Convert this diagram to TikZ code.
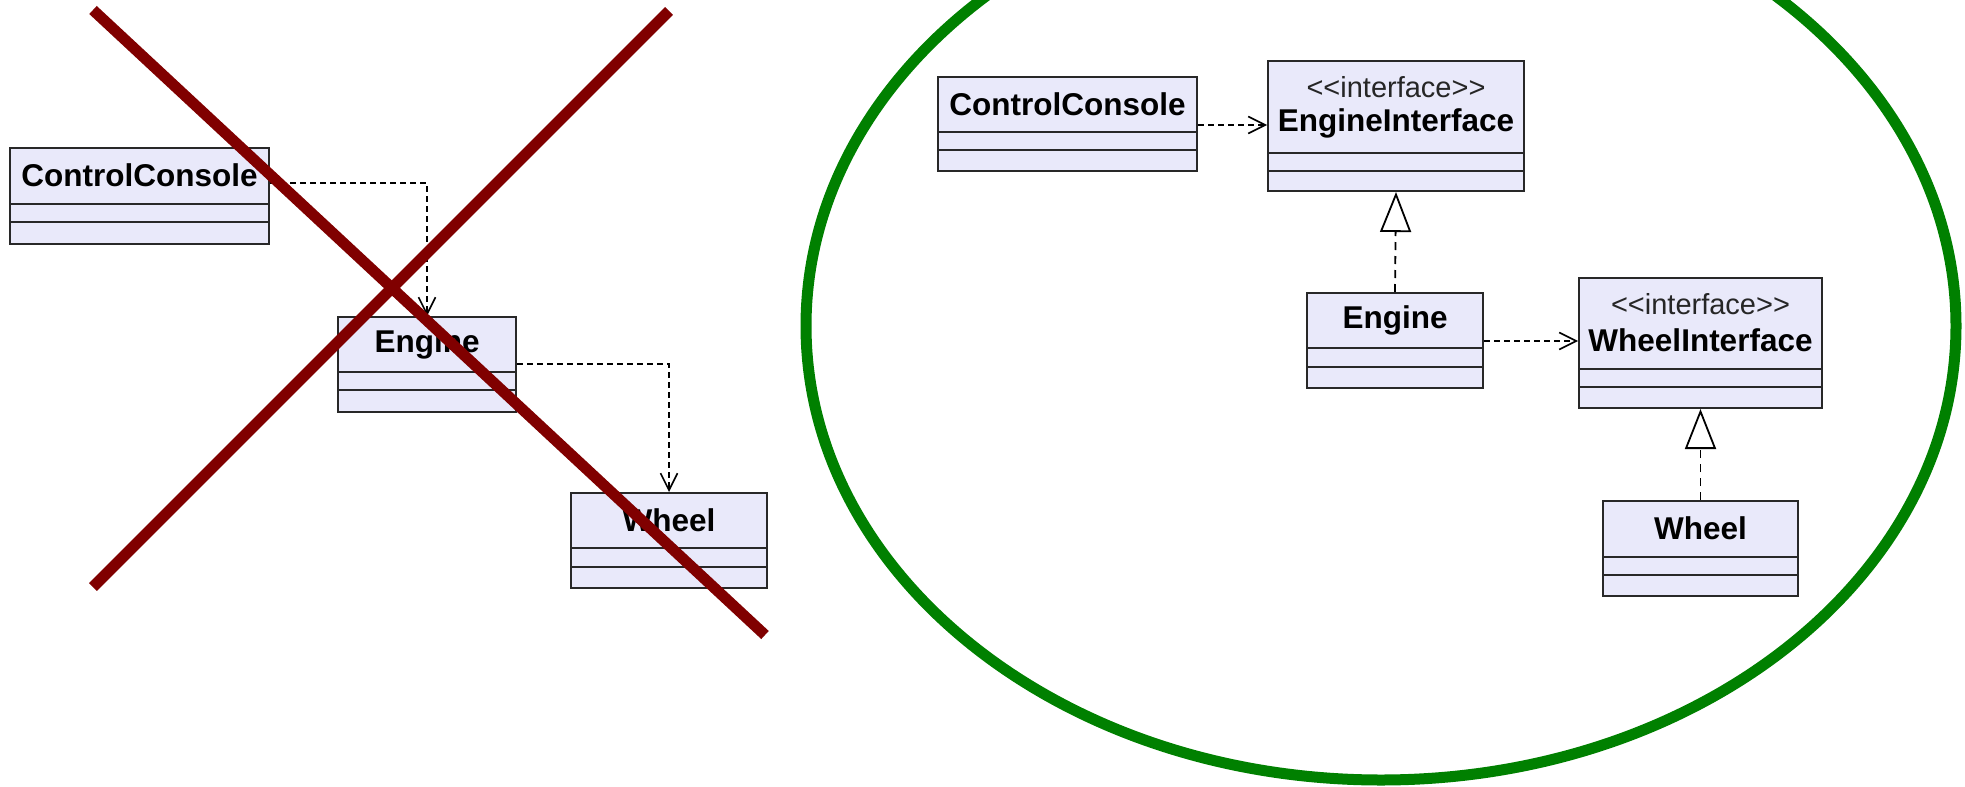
\documentclass[tikz,border=0pt]{standalone}
\usepackage{fontspec}
\setmainfont{Liberation Sans}
\usetikzlibrary{arrows.meta}
\definecolor{classfill}{RGB}{233,233,250}
\definecolor{boxline}{RGB}{40,40,40}
\definecolor{crossred}{RGB}{128,0,0}
\definecolor{ovalgreen}{RGB}{0,128,0}
\newcommand{\stereotxt}[1]{<\kern0pt<#1>\kern0pt>}
\tikzset{
  classbox/.style={draw=boxline, fill=classfill, line width=2pt, inner sep=0pt, anchor=north west},
  divider/.style={draw=boxline, line width=2pt},
  cname/.style={font=\fontsize{31.5}{36}\selectfont\bfseries, text=black, inner sep=0pt},
  stereo/.style={font=\fontsize{29}{33}\selectfont, text=black!85, inner sep=0pt},
  dep/.style={line width=1.6pt, dash pattern=on 6pt off 4pt, -{Straight Barb[length=17pt,width=17pt,line width=1.6pt]}},
  real/.style={line width=1.8pt, dash pattern=on 8pt off 6pt, -{Triangle[open, length=40pt, width=31pt, line width=1.8pt, fill=white]}},
  crossline/.style={draw=crossred, line width=11pt},
  oval/.style={draw=ovalgreen, line width=11pt}
}
\begin{document}
\begin{tikzpicture}[x=1pt,y=-1pt]
\useasboundingbox (0,0) rectangle (1965,787);
\clip (0,0) rectangle (1965,787);

% ---------------- left (crossed out) diagram ----------------
\node[classbox, minimum width=259pt, minimum height=96pt] (lcc) at (9,147) {};
\draw[divider] ([yshift=-57pt]lcc.north west) -- ([yshift=-57pt]lcc.north east);
\draw[divider] ([yshift=-75pt]lcc.north west) -- ([yshift=-75pt]lcc.north east);
\node[cname] (lcct) at ([yshift=-28pt]lcc.north) {ControlConsole};

\node[classbox, minimum width=178pt, minimum height=95pt] (leng) at (337,316) {};
\draw[divider] ([yshift=-56pt]leng.north west) -- ([yshift=-56pt]leng.north east);
\draw[divider] ([yshift=-74pt]leng.north west) -- ([yshift=-74pt]leng.north east);
\node[cname] (lengt) at ([yshift=-28pt]leng.north) {Engine};

\node[classbox, minimum width=196pt, minimum height=95pt] (lwh) at (570,492) {};
\draw[divider] ([yshift=-56pt]lwh.north west) -- ([yshift=-56pt]lwh.north east);
\draw[divider] ([yshift=-75pt]lwh.north west) -- ([yshift=-75pt]lwh.north east);
\node[cname] (lwht) at ([yshift=-28pt]lwh.north) {Wheel};

\draw[dep] (lcc.east |- 0,183) -| (leng.north);
\draw[dep] (leng.east |- 0,364) -| (lwh.north);

\draw[crossline] (93,10) -- (765,635);
\draw[crossline] (669,11) -- (93,587);

% ---------------- right (good) diagram ----------------
\draw[oval] (1381,326) ellipse [x radius=575pt, y radius=454pt];

\node[classbox, minimum width=259pt, minimum height=94pt] (rcc) at (937,76) {};
\draw[divider] ([yshift=-56pt]rcc.north west) -- ([yshift=-56pt]rcc.north east);
\draw[divider] ([yshift=-74pt]rcc.north west) -- ([yshift=-74pt]rcc.north east);
\node[cname] (rcct) at ([yshift=-28pt]rcc.north) {ControlConsole};

\node[classbox, minimum width=256pt, minimum height=130pt] (rei) at (1267,60) {};
\draw[divider] ([yshift=-93pt]rei.north west) -- ([yshift=-93pt]rei.north east);
\draw[divider] ([yshift=-111pt]rei.north west) -- ([yshift=-111pt]rei.north east);
\node[stereo] (reis) at ([yshift=-27pt]rei.north) {\stereotxt{interface}};
\node[cname] (reit) at ([yshift=-63pt]rei.north) {EngineInterface};

\node[classbox, minimum width=176pt, minimum height=95pt] (reng) at (1306,292) {};
\draw[divider] ([yshift=-56pt]reng.north west) -- ([yshift=-56pt]reng.north east);
\draw[divider] ([yshift=-75pt]reng.north west) -- ([yshift=-75pt]reng.north east);
\node[cname] (rengt) at ([yshift=-28pt]reng.north) {Engine};

\node[classbox, minimum width=243pt, minimum height=130pt] (rwi) at (1578,277) {};
\draw[divider] ([yshift=-92pt]rwi.north west) -- ([yshift=-92pt]rwi.north east);
\draw[divider] ([yshift=-110pt]rwi.north west) -- ([yshift=-110pt]rwi.north east);
\node[stereo] (rwis) at ([yshift=-27pt]rwi.north) {\stereotxt{interface}};
\node[cname] (rwit) at ([yshift=-63pt]rwi.north) {WheelInterface};

\node[classbox, minimum width=195pt, minimum height=95pt] (rwh) at (1602,500) {};
\draw[divider] ([yshift=-57pt]rwh.north west) -- ([yshift=-57pt]rwh.north east);
\draw[divider] ([yshift=-75pt]rwh.north west) -- ([yshift=-75pt]rwh.north east);
\node[cname] (rwht) at ([yshift=-28pt]rwh.north) {Wheel};

\draw[dep] (rcc.east |- 0,125) -- (rei.west |- 0,125);
\draw[dep] (reng.east |- 0,341) -- (rwi.west |- 0,341);
\draw[real] (reng.north) -- (rei.south);
\draw[real] (rwh.north) -- (rwi.south);
\end{tikzpicture}
\end{document}
